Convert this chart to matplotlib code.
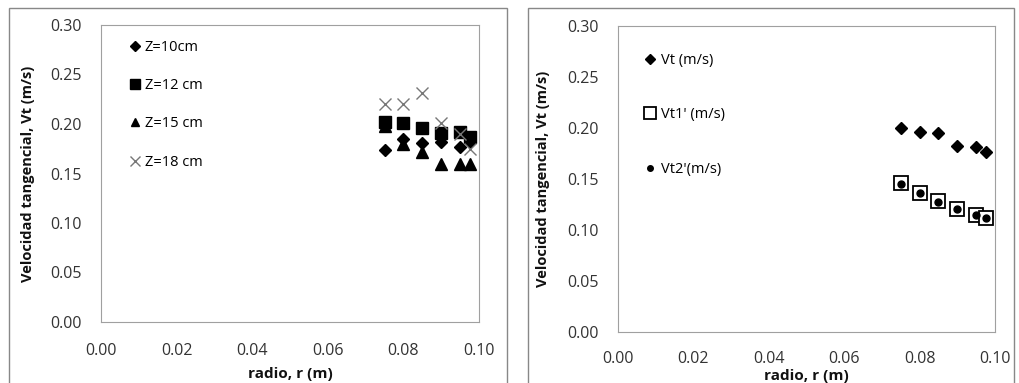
import numpy as np
import matplotlib.pyplot as plt
from matplotlib.patches import Rectangle

plt.rcParams['font.family'] = ['Open Sans', 'DejaVu Sans']

r = [0.075, 0.080, 0.085, 0.090, 0.095, 0.0975]

# left panel: Vt at several heights
z10 = [0.174, 0.185, 0.181, 0.182, 0.177, 0.182]
z12 = [0.202, 0.201, 0.196, 0.191, 0.192, 0.187]
z15 = [0.198, 0.180, 0.172, 0.160, 0.160, 0.160]
z18 = [0.220, 0.220, 0.231, 0.201, 0.190, 0.175]

# right panel: measured and model
vt = [0.200, 0.196, 0.195, 0.182, 0.181, 0.176]
vt1 = [0.146, 0.136, 0.128, 0.121, 0.115, 0.112]
vt2 = [0.145, 0.136, 0.127, 0.121, 0.115, 0.112]

W, H = 1019, 383
fig = plt.figure(figsize=(W/100, H/100), dpi=100)

def px(l, t, w, h):
    return [l/W, 1-(t+h)/H, w/W, h/H]

# outer chart frames
for (l, t, w, h) in [(9, 8, 498, 390), (528, 8, 486, 390)]:
    fig.patches.append(Rectangle((l/W, 1-(t+h)/H), w/W, h/H, transform=fig.transFigure,
                                 fill=False, edgecolor='#888888', lw=1.0))

tcol = '#333333'

def style(ax, xpad):
    ax.set_xlim(0, 0.1)
    ax.set_ylim(0, 0.3)
    ax.set_xticks(np.arange(0, 0.101, 0.02))
    ax.set_yticks(np.arange(0, 0.301, 0.05))
    ax.xaxis.set_major_formatter(plt.FormatStrFormatter('%.2f'))
    ax.yaxis.set_major_formatter(plt.FormatStrFormatter('%.2f'))
    ax.tick_params(length=0, labelsize=11.5, colors=tcol)
    ax.tick_params(axis='y', pad=14)
    ax.tick_params(axis='x', pad=xpad)
    for s in ax.spines.values():
        s.set_color('#a0a0a0')
    ax.set_ylabel('Velocidad tangencial, Vt (m/s)', fontweight='bold', fontsize=10.5, color='#111111')

ax1 = fig.add_axes(px(101, 25, 378, 297))
ax1.plot(r, z10, 'D', color='black', ms=6, label='Z=10cm')
ax1.plot(r, z12, 's', color='black', ms=9, label='Z=12 cm')
ax1.plot(r, z15, '^', color='black', ms=8, label='Z=15 cm')
ax1.plot(r, z18, 'x', color='#777777', ms=9, mew=1.0, label='Z=18 cm')
style(ax1, 15)
ax1.set_xlabel('radio, r (m)', fontweight='bold', fontsize=11, color='#111111', labelpad=6)
ax1.yaxis.set_label_coords(-0.175, 0.5)
ax1.legend(loc='upper left', bbox_to_anchor=(0.035, 0.995), frameon=False, fontsize=10.5,
           labelspacing=1.6, handletextpad=0.2, handlelength=1.0, markerscale=0.8)

ax2 = fig.add_axes(px(618, 26, 377, 306))
ax2.plot(r, vt, 'D', color='black', ms=6, label='Vt (m/s)')
ax2.plot(r, vt1, 's', mfc='white', mec='black', ms=10, mew=1.3, label="Vt1' (m/s)")
ax2.plot(r, vt2, 'o', color='black', ms=5, label="Vt2'(m/s)")
style(ax2, 14)
ax2.set_xlabel('radio, r (m)', fontweight='bold', fontsize=11, color='#111111', labelpad=1)
ax2.yaxis.set_label_coords(-0.18, 0.5)
ax2.legend(loc='upper left', bbox_to_anchor=(0.03, 0.955), frameon=False, fontsize=10.5,
           labelspacing=2.7, handletextpad=0.3, handlelength=1.0, markerscale=0.8)

fig.savefig('out.png', dpi=100)
